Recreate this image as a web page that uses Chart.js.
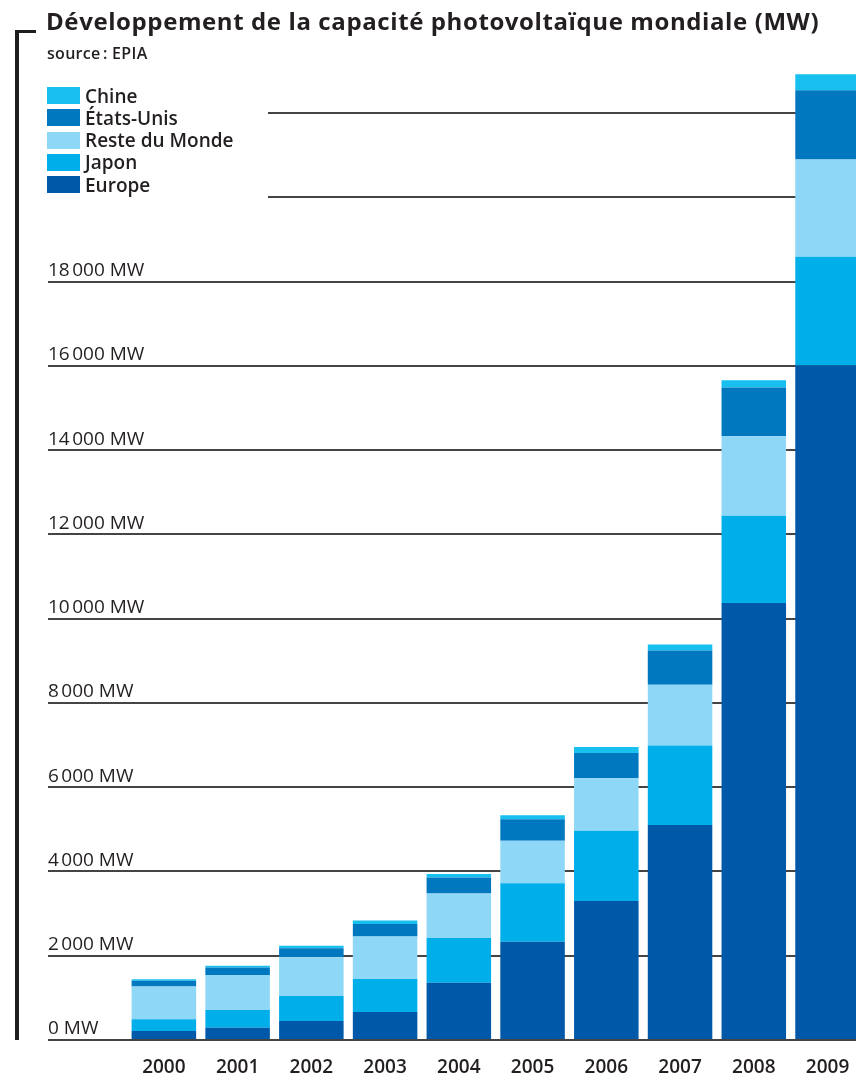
<!DOCTYPE html>
<html>
<head>
    <meta charset="utf-8">
    <title>Développement de la capacité photovoltaïque mondiale (MW)</title>
    <script src="https://cdn.jsdelivr.net/npm/chart.js"></script>
    <style>
        body {
            margin: 0;
            width: 856px;
            height: 1073px;
            overflow: hidden;
            position: relative;
            background: #fff;
            font-family: 'Open Sans', sans-serif;
            color: #231f20;
        }
        canvas { position: absolute; left: 0; top: 0; }
        #frame {
            position: absolute; left: 15px; top: 30px;
            width: 17px; height: 1007px;
            border-left: 4px solid #1e1e1e;
            border-top: 3px solid #1e1e1e;
        }
        h1 {
            position: absolute; left: 46px; top: 4px; margin: 0;
            font-size: 24px; font-weight: 700; letter-spacing: 0.6px;
            line-height: normal; white-space: nowrap;
        }
        .source {
            position: absolute; left: 47px; top: 42px;
            font-size: 16px; font-weight: 600; letter-spacing: 0.3px;
        }
        #legend {
            position: absolute; left: 40px; top: 80px;
            width: 228px; height: 126px; background: #fff;
        }
        .item {
            position: absolute; left: 7px; height: 17px;
            display: flex; align-items: center;
            font-size: 19px; font-weight: 600; white-space: nowrap;
        }
        .swatch { width: 33px; height: 17px; margin-right: 5px; }
    </style>
</head>
<body>
    <canvas id="pvChart" width="870" height="1073"></canvas>
    <div id="frame"></div>
    <h1>Développement de la capacité photovoltaïque mondiale (MW)</h1>
    <div class="source">source&#8239;: EPIA</div>
    <div id="legend"></div>

    <script>
        // Installed capacity, MW (cumulative)
        const years = ['2000', '2001', '2002', '2003', '2004', '2005', '2006', '2007', '2008', '2009'];
        const europe = [215, 290, 450, 665, 1360, 2335, 3300, 5105, 10370, 16010];
        const japon = [280, 420, 595, 785, 1060, 1385, 1665, 1885, 2075, 2580];
        const resteDuMonde = [775, 830, 920, 1005, 1060, 1010, 1250, 1440, 1885, 2310];
        const etatsUnis = [135, 180, 215, 300, 380, 510, 595, 815, 1155, 1645];
        const chine = [35, 40, 55, 80, 80, 95, 145, 145, 175, 375];

        const yTickValues = [0, 2000, 4000, 6000, 8000, 10000, 12000, 14000, 16000, 18000, 20000, 22000];

        const textColor = '#231f20';
        const fontFamily = "'Open Sans', sans-serif";

        // bottom of the stack first
        const series = [
            { label: 'Europe', data: europe, color: '#0059a8' },
            { label: 'Japon', data: japon, color: '#00aeea' },
            { label: 'Reste du Monde', data: resteDuMonde, color: '#8fd7f6' },
            { label: 'États-Unis', data: etatsUnis, color: '#0078c0' },
            { label: 'Chine', data: chine, color: '#18c0f0' }
        ];

        function formatMW(v) {
            return String(v).replace(/\B(?=(\d{3})+(?!\d))/g, '\u202f') + ' MW';
        }

        function buildLegend() {
            const box = document.getElementById('legend');
            series.slice().reverse().forEach((s, i) => {
                const row = document.createElement('div');
                row.className = 'item';
                row.style.top = (7 + i * 22.3) + 'px';
                const sw = document.createElement('span');
                sw.className = 'swatch';
                sw.style.background = s.color;
                const txt = document.createElement('span');
                txt.textContent = s.label;
                row.appendChild(sw);
                row.appendChild(txt);
                box.appendChild(row);
            });
        }

        function createChart() {
            const ctx = document.getElementById('pvChart').getContext('2d');
            new Chart(ctx, {
                type: 'bar',
                data: {
                    labels: years,
                    datasets: series.map(s => ({
                        label: s.label,
                        data: s.data,
                        backgroundColor: s.color,
                        borderWidth: 0,
                        barPercentage: 0.875,
                        categoryPercentage: 1
                    }))
                },
                options: {
                    responsive: false,
                    animation: false,
                    layout: { padding: { left: 48, right: 5.6, top: 71, bottom: 0 } },
                    plugins: {
                        legend: { display: false },
                        tooltip: { enabled: false }
                    },
                    scales: {
                        x: {
                            stacked: true,
                            grid: { display: false },
                            border: { display: false },
                            ticks: {
                                padding: 8,
                                maxRotation: 0,
                                color: textColor,
                                font: { family: fontFamily, size: 19, weight: '600' }
                            },
                            afterFit: s => { s.height = 33; s.paddingLeft = 0; s.paddingRight = 0; }
                        },
                        y: {
                            stacked: true,
                            min: 0,
                            max: 23000,
                            border: { display: false },
                            grid: { color: '#444', lineWidth: 2, tickLength: 79 },
                            ticks: {
                                // mirrored labels are not clipped to the axis box,
                                // the negative padding brings them back to the left edge
                                mirror: true,
                                crossAlign: 'near',
                                padding: -79,
                                labelOffset: -11,
                                color: textColor,
                                font: { family: fontFamily, size: 19, weight: '500' },
                                callback: v => formatMW(v)
                            },
                            afterBuildTicks: s => { s.ticks = yTickValues.map(v => ({ value: v })); },
                            afterFit: s => { s.width = 79; s.paddingTop = 0; s.paddingBottom = 0; }
                        }
                    }
                }
            });
        }

        buildLegend();
        createChart();
    </script>
</body>
</html>
